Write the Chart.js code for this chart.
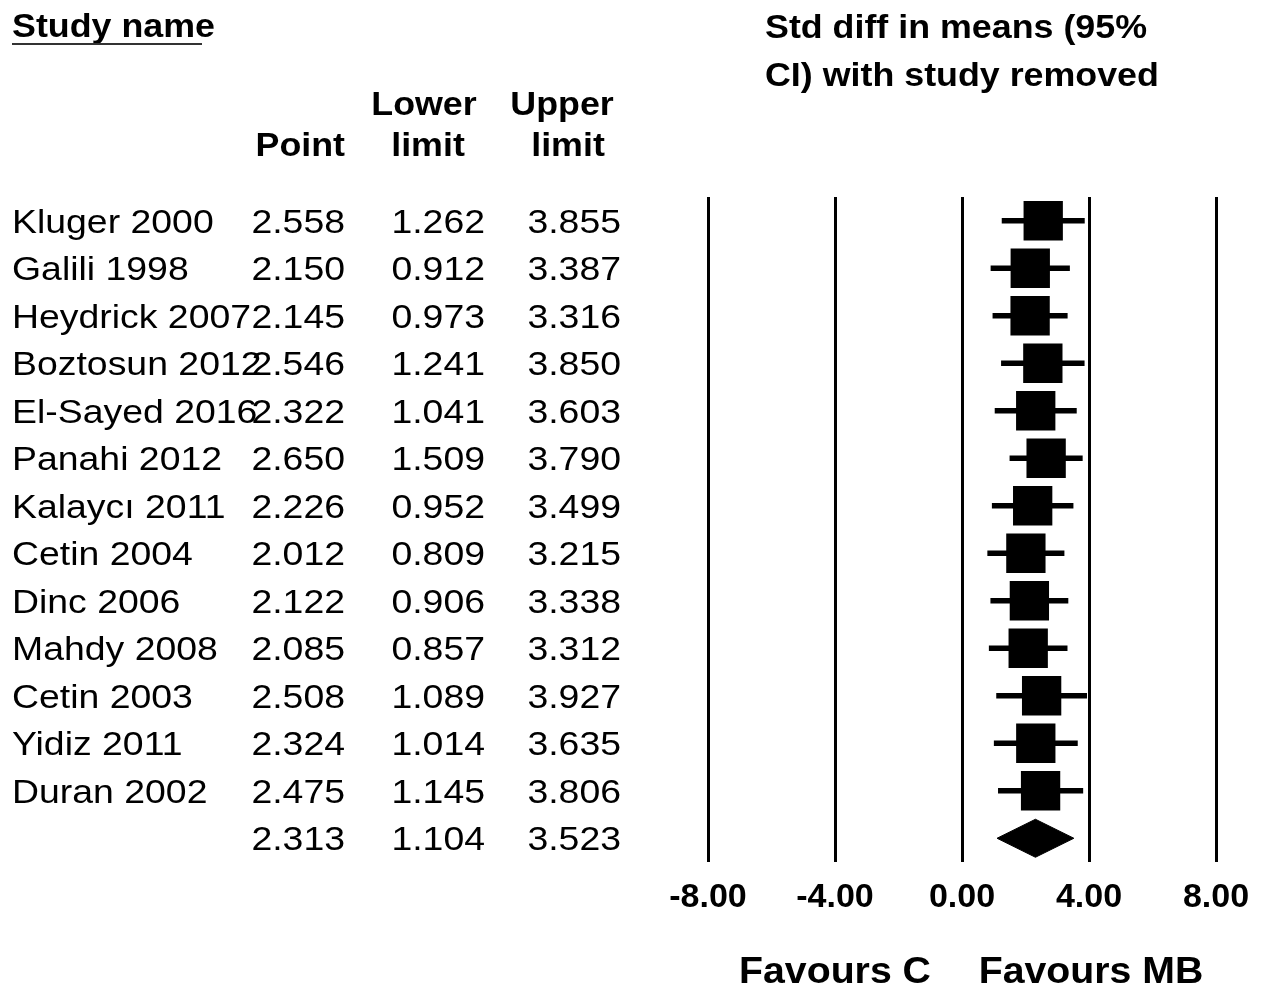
<!DOCTYPE html>
<html>
<head>
<meta charset="utf-8">
<title>Std diff in means with study removed</title>
<script src="https://cdn.jsdelivr.net/npm/chart.js@4.4.1/dist/chart.umd.min.js"></script>
<style>
  html, body { margin: 0; padding: 0; background: #ffffff; }
  #wrap { width: 1266px; height: 989px; position: relative; }
  canvas { display: block; }
</style>
</head>
<body>
<div id="wrap"><canvas id="forest" width="1266" height="989"></canvas></div>
<script>
// Study rows (one-study-removed analysis)
const studies = [
  "Kluger 2000", "Galili 1998", "Heydrick 2007", "Boztosun 2012", "El-Sayed 2016",
  "Panahi 2012", "Kalaycı 2011", "Cetin 2004", "Dinc 2006", "Mahdy 2008",
  "Cetin 2003", "Yidiz 2011", "Duran 2002"
];
const pointEst = [2.558, 2.150, 2.145, 2.546, 2.322, 2.650, 2.226, 2.012, 2.122, 2.085, 2.508, 2.324, 2.475];
const lowerLimit = [1.262, 0.912, 0.973, 1.241, 1.041, 1.509, 0.952, 0.809, 0.906, 0.857, 1.089, 1.014, 1.145];
const upperLimit = [3.855, 3.387, 3.316, 3.850, 3.603, 3.790, 3.499, 3.215, 3.338, 3.312, 3.927, 3.635, 3.806];

// Pooled estimate
const overallPoint = 2.313;
const overallLower = 1.104;
const overallUpper = 3.523;

// Axis ticks
const xTicks = [-8, -4, 0, 4, 8];

const summaryRow = studies.length;
const diamondHalf = 0.40;
const FONT = "'Liberation Sans', Arial, Helvetica, sans-serif";

Chart.defaults.font.family = FONT;
Chart.defaults.color = '#000';

// Draw text centred on its cap height at y, optionally stretched horizontally
function stretchText(ctx, text, x, y, opts) {
  ctx.save();
  ctx.font = (opts.bold ? 'bold ' : '') + opts.size + 'px ' + FONT;
  ctx.fillStyle = '#000';
  ctx.textBaseline = 'alphabetic';
  ctx.textAlign = opts.align || 'left';
  ctx.translate(x, y + 0.358 * opts.size);
  ctx.scale(opts.sx || 1, 1);
  ctx.fillText(text, 0, 0);
  ctx.restore();
}

const tablePlugin = {
  id: 'forestTable',
  afterDraw(chart) {
    const ctx = chart.ctx;
    const ys = chart.scales.y;
    const xs = chart.scales.x;
    const body = { size: 34, sx: 1.1 };
    const bodyR = Object.assign({ align: 'right' }, body);
    const head = { size: 33, bold: true, sx: 1.085 };
    const headC = Object.assign({ align: 'center' }, head);

    // column headers
    stretchText(ctx, 'Study name', 12, 25, head);
    ctx.save();
    ctx.strokeStyle = '#333';
    ctx.lineWidth = 2;
    ctx.beginPath();
    ctx.moveTo(12, 44);
    ctx.lineTo(202, 44);
    ctx.stroke();
    ctx.restore();

    stretchText(ctx, 'Lower', 424, 103, headC);
    stretchText(ctx, 'Upper', 562, 103, headC);
    stretchText(ctx, 'Point', 345, 144, Object.assign({ align: 'right' }, head));
    stretchText(ctx, 'limit', 428, 144, headC);
    stretchText(ctx, 'limit', 568, 144, headC);

    // plot heading
    stretchText(ctx, 'Std diff in means (95%', 765, 26, head);
    stretchText(ctx, 'CI) with study removed', 765, 74, head);

    // study rows
    studies.forEach((name, i) => {
      const y = ys.getPixelForValue(i);
      stretchText(ctx, name, 12, y, body);
      stretchText(ctx, pointEst[i].toFixed(3), 345, y, bodyR);
      stretchText(ctx, lowerLimit[i].toFixed(3), 485, y, bodyR);
      stretchText(ctx, upperLimit[i].toFixed(3), 621, y, bodyR);
    });

    // pooled row
    const ySum = ys.getPixelForValue(summaryRow);
    stretchText(ctx, overallPoint.toFixed(3), 345, ySum, bodyR);
    stretchText(ctx, overallLower.toFixed(3), 485, ySum, bodyR);
    stretchText(ctx, overallUpper.toFixed(3), 621, ySum, bodyR);

    // direction labels under the axis
    const foot = { size: 36, bold: true, sx: 1.09, align: 'center' };
    stretchText(ctx, 'Favours C', xs.getPixelForValue(-4), 970, foot);
    stretchText(ctx, 'Favours MB', xs.getPixelForValue(4) + 2, 970, foot);
  }
};

const ciBars = studies.map((s, i) => ({ x: [lowerLimit[i], upperLimit[i]], y: i }));
const squares = studies.map((s, i) => ({ x: pointEst[i], y: i }));
const diamond = [
  { x: overallLower, y: summaryRow },
  { x: overallPoint, y: summaryRow - diamondHalf },
  { x: overallUpper, y: summaryRow },
  { x: overallPoint, y: summaryRow + diamondHalf },
  { x: overallLower, y: summaryRow }
];

new Chart(document.getElementById('forest'), {
  type: 'scatter',
  data: {
    datasets: [
      {
        type: 'bar',
        indexAxis: 'y',
        data: ciBars,
        backgroundColor: '#000',
        borderWidth: 0,
        barThickness: 5,
        order: 3
      },
      {
        type: 'scatter',
        data: squares,
        pointStyle: 'rect',
        pointRadius: 27.8,
        pointHoverRadius: 27.8,
        backgroundColor: '#000',
        borderWidth: 0,
        order: 1
      },
      {
        type: 'line',
        data: diamond,
        borderColor: '#000',
        borderWidth: 1,
        backgroundColor: '#000',
        fill: 'shape',
        pointRadius: 0,
        tension: 0,
        order: 2
      }
    ]
  },
  options: {
    responsive: false,
    devicePixelRatio: 1,
    animation: false,
    events: [],
    layout: { padding: { left: 708, right: 50, top: 197, bottom: 67 } },
    plugins: { legend: { display: false }, tooltip: { enabled: false } },
    scales: {
      x: {
        type: 'linear',
        min: -8,
        max: 8,
        offset: false,
        afterBuildTicks: (scale) => { scale.ticks = xTicks.map(v => ({ value: v })); },
        afterFit: (scale) => { scale.height = 60; },
        grid: { display: true, color: '#000', lineWidth: 3, drawTicks: false, offset: false },
        border: { display: false },
        ticks: {
          padding: 15,
          maxRotation: 0,
          autoSkip: false,
          color: '#000',
          font: { size: 34, weight: 'bold', family: FONT },
          callback: (v) => Number(v).toFixed(2)
        }
      },
      y: {
        type: 'linear',
        min: -0.5,
        max: summaryRow + 0.5,
        reverse: true,
        offset: false,
        display: false
      }
    }
  },
  plugins: [tablePlugin]
});
</script>
</body>
</html>
